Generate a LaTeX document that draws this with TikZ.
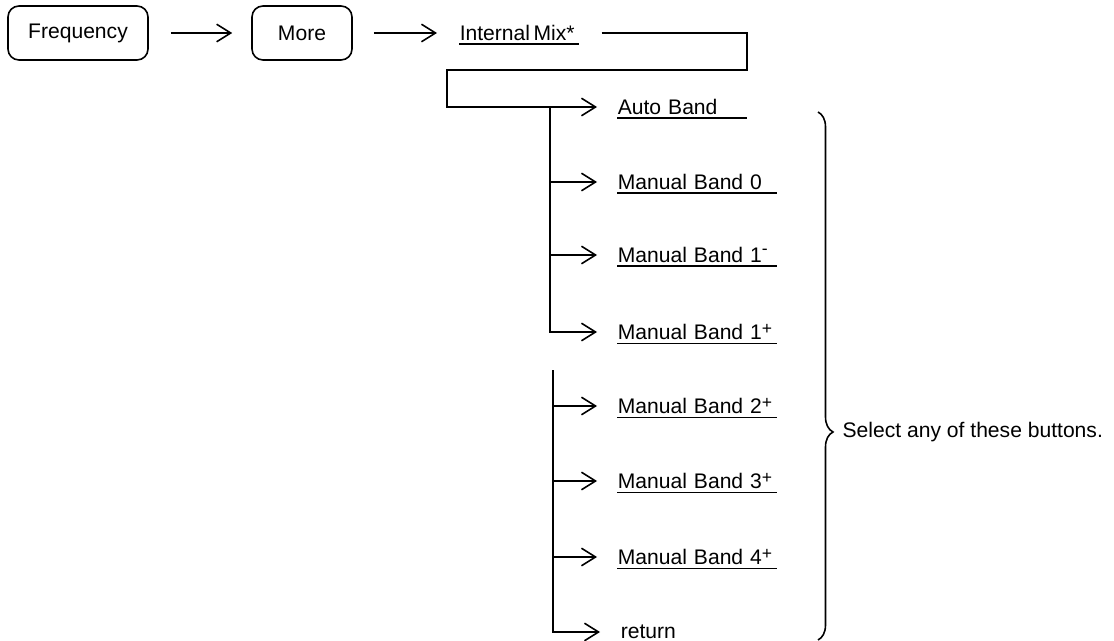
\documentclass[tikz,border=0pt]{standalone}
\usepackage{fontspec}
\setmainfont{Liberation Sans}
\usetikzlibrary{arrows.meta, positioning, decorations.pathreplacing}

\newcommand{\supplus}{\raisebox{0.5ex}{\fontsize{10}{11}\selectfont +}}
\newcommand{\supminus}{\raisebox{0.75ex}{\fontsize{10}{11}\selectfont -}}

\begin{document}
\begin{tikzpicture}[font=\fontsize{12}{14}\selectfont, line width=0.9pt,
    softkey/.style={draw, rounded corners=0.22cm, minimum width=#1, minimum height=1.08cm},
    menuitem/.style={anchor=west, inner xsep=0pt, inner ysep=1.5pt, text depth=0pt, text width=#1, align=left},
    menuitem/.default=3.16cm,
    arr/.style={-{Straight Barb[length=8pt, width=10pt]}, shorten >=0.4cm}]
  \useasboundingbox (0,0) rectangle (22.28,-12.82);
  \node[softkey=2.8cm] (freq) at (1.56,-0.66) {Frequency};
  \node[softkey=2.0cm] (more) at (6.04,-0.66) {More};
  \node[menuitem=2.36cm] (imix) at (9.18,-0.66) {Internal\,Mix*};
  \node[menuitem=2.56cm] (auto) at (12.34,-2.14) {Auto Band};
  \node[menuitem] (mb0) at (12.34,-3.64) {Manual Band 0};
  \node[menuitem] (mb1m) at (12.34,-5.1) {Manual Band 1\supminus};
  \node[menuitem] (mb1p) at (12.34,-6.64) {Manual Band 1\supplus};
  \node[menuitem] (mb2) at (12.34,-8.12) {Manual Band 2\supplus};
  \node[menuitem] (mb3) at (12.34,-9.62) {Manual Band 3\supplus};
  \node[menuitem] (mb4) at (12.34,-11.14) {Manual Band 4\supplus};
  \node[menuitem=2cm] (ret) at (12.4,-12.64) {return};
  \node[anchor=west] (sel) at (16.72,-8.64) {Select any of these buttons.};
  \coordinate (turnR) at (14.94,-1.40);
  \coordinate (turnL) at (8.94,-1.40);
  \coordinate (trunkA) at (11.0,-2.14);
  \coordinate (trunkB) at (11.06,-7.40);
  \coordinate (braceTop) at (16.36,-2.24);
  \coordinate (braceBot) at (16.36,-12.8);
  \draw[arr, shorten <=0.44cm, shorten >=0.38cm] (freq) -- (more);
  \draw[arr, shorten <=0.42cm, shorten >=0.44cm] (more) -- (imix);
  \draw[arr] ([xshift=0.46cm]imix.east) -| (turnR) -- (turnL) |- (auto.west);
  \draw[arr] (trunkA) |- (mb1p.west);
  \foreach \n in {mb0,mb1m}
    \draw[arr] (trunkA |- \n.west) -- (\n.west);
  \draw[arr] (trunkB) |- (ret.west);
  \foreach \n in {mb2,mb3,mb4}
    \draw[arr] (trunkB |- \n.west) -- (\n.west);
  \foreach \n in {imix,auto,mb0,mb1m,mb1p,mb2,mb3,mb4}
    \draw[line width=0.8pt] (\n.south west) -- (\n.south east);
  \draw[decorate, decoration={brace, amplitude=0.3cm, aspect=0.606}] (braceTop) -- (braceBot);
\end{tikzpicture}
\end{document}
